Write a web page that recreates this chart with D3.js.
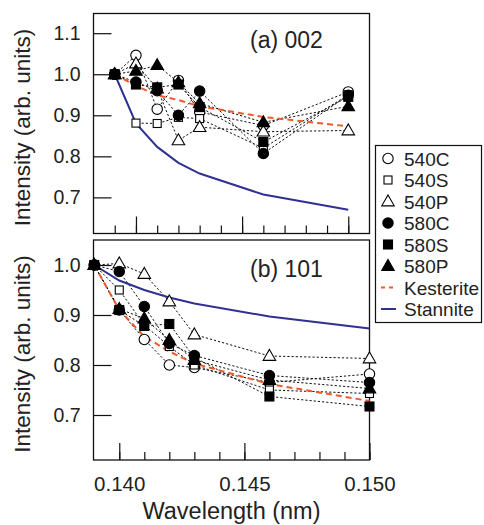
<!DOCTYPE html>
<html>
<head>
<meta charset="utf-8">
<script src="https://cdn.jsdelivr.net/npm/d3@7"></script>
<style>
  html, body { margin: 0; padding: 0; background: #fff; }
  svg { display: block; font-family: "Liberation Sans", Arial, Helvetica, sans-serif; }
</style>
</head>
<body>
<svg id="chart" width="484" height="525"></svg>
<script>
// wavelengths (nm) shared by every series
const wavelengths = [0.139, 0.140, 0.141, 0.142, 0.143, 0.146, 0.150];

const sampleNames = ["540C", "540S", "540P", "580C", "580S", "580P"];
const sampleShapes = ["circle", "square", "triangle", "circle", "square", "triangle"];
const sampleFilled = [false, false, false, true, true, true];

// (a) 002 reflection
const a002 = {
  "540C": [1.0, 1.046, 0.915, 0.985, 0.908, 0.875, 0.957],
  "540S": [1.0, 0.881, 0.880, 0.895, 0.892, 0.820, 0.950],
  "540P": [1.0, 1.026, 0.965, 0.839, 0.871, 0.860, 0.863],
  "580C": [1.0, 0.981, 0.960, 0.900, 0.959, 0.807, 0.949],
  "580S": [1.0, 0.975, 0.968, 0.975, 0.920, 0.835, 0.945],
  "580P": [1.0, 1.008, 1.022, 0.980, 0.929, 0.883, 0.922]
};
const a002Kesterite = [1.0, 0.972, 0.949, 0.937, 0.922, 0.896, 0.873];
const a002Stannite = [1.0, 0.880, 0.823, 0.784, 0.758, 0.707, 0.670];

// (b) 101 reflection
const b101 = {
  "540C": [1.0, 0.910, 0.851, 0.800, 0.795, 0.765, 0.782],
  "540S": [1.0, 0.950, 0.880, 0.837, 0.800, 0.750, 0.743],
  "540P": [1.0, 1.003, 0.982, 0.927, 0.861, 0.818, 0.813],
  "580C": [1.0, 0.987, 0.917, 0.843, 0.819, 0.779, 0.765],
  "580S": [1.0, 0.910, 0.878, 0.882, 0.815, 0.737, 0.717],
  "580P": [1.0, 0.912, 0.893, 0.850, 0.810, 0.770, 0.753]
};
const b101Kesterite = [1.0, 0.910, 0.857, 0.827, 0.803, 0.762, 0.728];
const b101Stannite = [1.0, 0.969, 0.950, 0.935, 0.923, 0.897, 0.873];

const xMajorTicks = [0.140, 0.145, 0.150];
const xMinorTicksA = d3.range(139, 151).map((d) => d / 1000);
const xMinorTicksB = d3.range(140, 151).map((d) => d / 1000);
const yTicksA = [0.7, 0.8, 0.9, 1.0, 1.1];
const yTicksB = [0.7, 0.8, 0.9, 1.0];

const KEST_COLOR = "#f0592b";
const STAN_COLOR = "#2e3192";

const svg = d3.select("#chart");

const left = 93.5, right = 369.5;

function drawPanel(opts) {
  const g = svg.append("g");
  const x = d3.scaleLinear().domain(opts.xDomain).range([left, right]);
  const y = d3.scaleLinear().domain(opts.yDomain).range([opts.bottom, opts.top]);

  // minor + major x ticks pointing inward
  const minor = g.append("g").attr("transform", `translate(0,${opts.bottom})`)
    .call(d3.axisBottom(x).tickValues(opts.xMinor).tickSize(-8).tickFormat(""));
  const major = g.append("g").attr("transform", `translate(0,${opts.bottom})`)
    .call(d3.axisBottom(x).tickValues(xMajorTicks).tickSize(-17)
      .tickFormat(opts.showXLabels ? d3.format(".3f") : ""));
  major.selectAll("text").attr("font-size", 20.5).attr("fill", "#222")
    .attr("y", 16).attr("font-family", "Liberation Sans, Arial, sans-serif");

  const yAx = g.append("g").attr("transform", `translate(${left},0)`)
    .call(d3.axisLeft(y).tickValues(opts.yTicks).tickSize(-18).tickPadding(13).tickFormat(d3.format(".1f")));
  yAx.selectAll("text").attr("font-size", 19.5).attr("fill", "#222")
    .attr("font-family", "Liberation Sans, Arial, sans-serif");

  [minor, major, yAx].forEach((a) => {
    a.select(".domain").remove();
    a.selectAll("line").attr("stroke", "#111").attr("stroke-width", 1.2);
  });

  g.append("rect")
    .attr("x", left).attr("y", opts.top)
    .attr("width", right - left).attr("height", opts.bottom - opts.top)
    .attr("fill", "none").attr("stroke", "#111").attr("stroke-width", 1.3);

  const line = d3.line().x((d, i) => x(wavelengths[i])).y((d) => y(d));

  // sample series: dotted connecting lines
  sampleNames.forEach((name) => {
    g.append("path").datum(opts.data[name]).attr("d", line)
      .attr("fill", "none").attr("stroke", "#111").attr("stroke-width", 1)
      .attr("stroke-dasharray", "2.2,2");
  });

  g.append("path").datum(opts.stannite).attr("d", line)
    .attr("fill", "none").attr("stroke", STAN_COLOR).attr("stroke-width", 2);
  g.append("path").datum(opts.kesterite).attr("d", line)
    .attr("fill", "none").attr("stroke", KEST_COLOR).attr("stroke-width", 2)
    .attr("stroke-dasharray", "6,4");

  sampleNames.forEach((name, k) => {
    opts.data[name].forEach((v, i) => {
      drawMarker(g, x(wavelengths[i]), y(v), sampleShapes[k], sampleFilled[k]);
    });
  });

  g.append("text").attr("x", 250).attr("y", opts.labelY)
    .attr("font-size", 23).attr("fill", "#222").text(opts.label);

  svg.append("text")
    .attr("transform", `translate(30,${(opts.top + opts.bottom) / 2 + 4}) rotate(-90)`)
    .attr("text-anchor", "middle").attr("font-size", 22.5).attr("fill", "#222")
    .text("Intensity (arb. units)");
}

function drawMarker(g, cx, cy, shape, filled) {
  const fill = filled ? "#000" : "#fff";
  let el;
  if (shape === "circle") {
    el = g.append("circle").attr("cx", cx).attr("cy", cy).attr("r", filled ? 5.2 : 5.2);
  } else if (shape === "square") {
    const s = filled ? 9 : 8;
    el = g.append("rect").attr("x", cx - s / 2).attr("y", cy - s / 2).attr("width", s).attr("height", s);
  } else {
    const s = 12.5, h = s * 0.87;
    el = g.append("path")
      .attr("d", `M${cx},${cy - h * 0.6}L${cx + s / 2},${cy + h * 0.4}L${cx - s / 2},${cy + h * 0.4}Z`);
  }
  el.attr("fill", fill).attr("stroke", "#000").attr("stroke-width", 1.1);
}

drawPanel({
  top: 13.5, bottom: 233.5,
  xDomain: [0.138, 0.151], yDomain: [0.612, 1.148],
  xMinor: xMinorTicksA, yTicks: yTicksA, showXLabels: false,
  data: a002, kesterite: a002Kesterite, stannite: a002Stannite,
  label: "(a) 002", labelY: 48
});

drawPanel({
  top: 240, bottom: 460,
  xDomain: [0.13897, 0.150], yDomain: [0.61, 1.05],
  xMinor: xMinorTicksB, yTicks: yTicksB, showXLabels: true,
  data: b101, kesterite: b101Kesterite, stannite: b101Stannite,
  label: "(b) 101", labelY: 277
});

svg.append("text").attr("x", 231.5).attr("y", 519)
  .attr("text-anchor", "middle").attr("font-size", 23.5).attr("fill", "#222")
  .text("Wavelength (nm)");

// legend
const legend = svg.append("g");
legend.append("rect").attr("x", 375.5).attr("y", 145.5).attr("width", 106).attr("height", 177)
  .attr("fill", "#fff").attr("stroke", "#111").attr("stroke-width", 1.2);

const legendNames = sampleNames.concat(["Kesterite", "Stannite"]);
const legendY = d3.scalePoint().domain(legendNames).range([158.5, 309]);

legendNames.forEach((name, k) => {
  const cy = legendY(name);
  if (k < sampleNames.length) {
    drawMarker(legend, 388, cy, sampleShapes[k], sampleFilled[k]);
  } else {
    const isKest = name === "Kesterite";
    legend.append("line").attr("x1", 381).attr("x2", 396).attr("y1", cy).attr("y2", cy)
      .attr("stroke", isKest ? KEST_COLOR : STAN_COLOR).attr("stroke-width", 2)
      .attr("stroke-dasharray", isKest ? "4,4" : null);
  }
  legend.append("text").attr("x", 404).attr("y", cy + 7)
    .attr("font-size", 19).attr("fill", "#222").text(name);
});
</script>
</body>
</html>
